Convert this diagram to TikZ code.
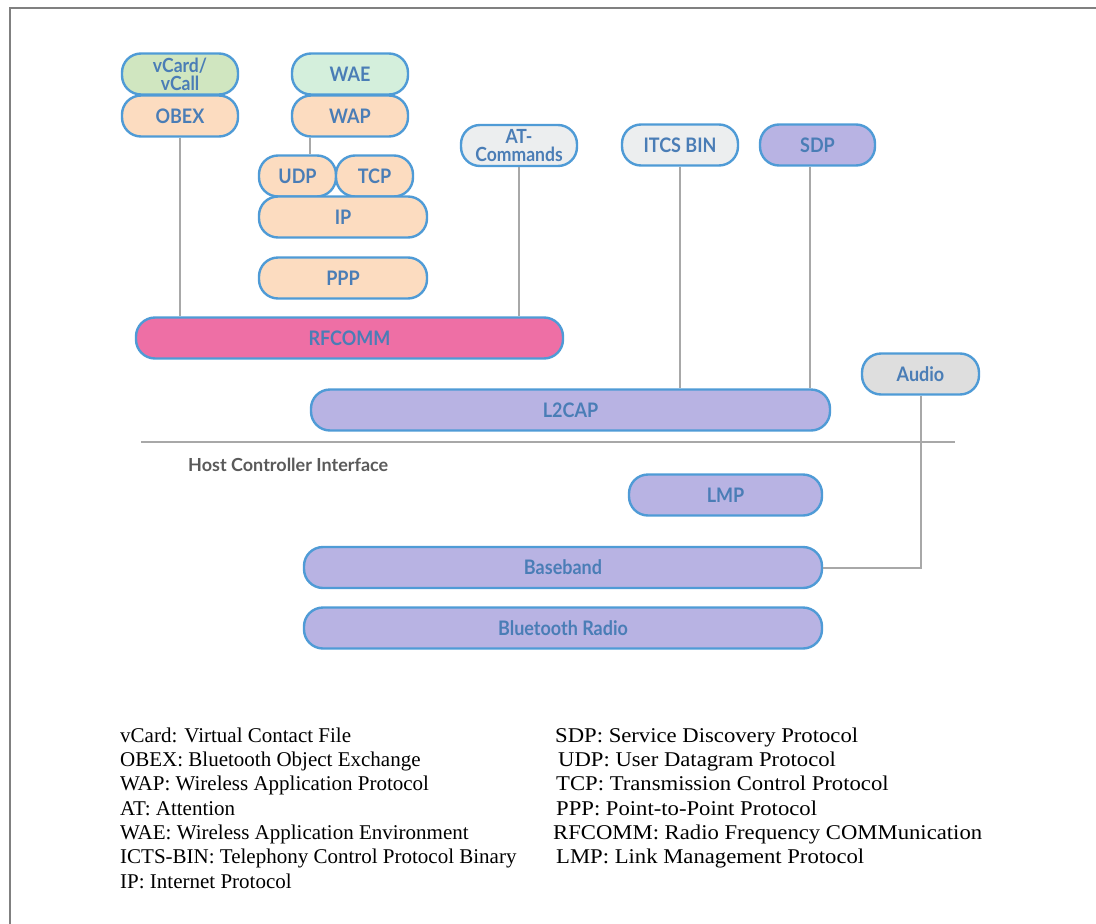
\documentclass[tikz,border=0pt]{standalone}
\usepackage{fontspec}
\setmainfont{Liberation Serif}
\newfontfamily\latofont[FakeStretch=0.9]{Lato}
\newfontfamily\hcifont{Lato}
\newfontfamily\widefont[FakeStretch=1.08]{Liberation Serif}
\usetikzlibrary{positioning}

\definecolor{layerborder}{HTML}{4F9BD6}
\definecolor{layertext}{HTML}{4A7DB6}
\definecolor{peach}{HTML}{FCDCC0}
\definecolor{greenA}{HTML}{D0E6C0}
\definecolor{greenB}{HTML}{D4EFDC}
\definecolor{paleGrey}{HTML}{ECEEEF}
\definecolor{audioGrey}{HTML}{DEDEDE}
\definecolor{lavender}{HTML}{B8B3E3}
\definecolor{rfpink}{HTML}{EE6FA5}
\definecolor{linkgrey}{HTML}{A8A8A8}
\definecolor{hcitext}{HTML}{5A5A5A}

\tikzset{
  layer/.style={draw=layerborder, line width=2.4pt, rounded corners=19pt, minimum height=41pt,
    inner sep=0pt, text=layertext, align=center, font=\latofont\bfseries\fontsize{20}{20}\selectfont},
  twoline/.style={font=\latofont\bfseries\fontsize{19.5}{18}\selectfont},
  link/.style={draw=linkgrey, line width=2pt},
  legend/.style={anchor=base west, inner sep=0pt, font=\fontsize{21}{24}\selectfont},
  legendR/.style={legend, font=\widefont\fontsize{21}{24}\selectfont}
}

\newcommand{\btlayer}[5] {\node at (#1) (#2) [layer, minimum width=#3pt, fill=#4] {#5};}
\newcommand{\btlink}[2] {\draw [link] (#1) -- (#2);}
\newcommand{\btlegend}[3] {\node at (#1) (#2) [legend] {#3};}
\newcommand{\btlegendR}[3] {\node at (#1) (#2) [legendR] {#3};}

\begin{document}
\begin{tikzpicture}[x=1pt, y=-1pt]
\useasboundingbox (0,0) rectangle (1096,924);
\draw [gray, line width=2pt] (1096,8) -- (10,8) -- (10,924);

% upper stack
\node at (180,74) (vcard) [layer, twoline, minimum width=116pt, fill=greenA] {vCard/\\vCall};
\btlayer {180,116} {obex} {116} {peach} {OBEX};
\btlayer {350,74} {wae} {116} {greenB} {WAE};
\btlayer {350,116} {wap} {116} {peach} {WAP};
\btlayer {297.5,176} {udp} {77} {peach} {UDP};
\btlayer {374.5,176} {tcp} {77} {peach} {TCP};
\btlayer {343,217} {ip} {168} {peach} {IP};
\btlayer {343,278} {ppp} {168} {peach} {PPP};
\node at (519,145.5) (atcmd) [layer, twoline, minimum width=116pt, fill=paleGrey] {AT-\\Commands};
\btlayer {680,145} {itcs} {116} {paleGrey} {ITCS BIN};
\btlayer {817.5,145} {sdp} {115} {lavender} {SDP};
\btlayer {349.5,338} {rfcomm} {427} {rfpink} {RFCOMM};
\btlayer {570.5,410} {l2cap} {519} {lavender} {L2CAP};
\btlayer {920.5,374} {audio} {117} {audioGrey} {Audio};

% host controller interface
\coordinate (hciL) at (141,442);
\coordinate (hciR) at (955,442);
\btlink{hciL}{hciR};
\node at (188,465) (hci) [anchor=west, inner sep=0pt, text=hcitext, font=\hcifont\bfseries\fontsize{18}{18}\selectfont] {Host Controller Interface};

% lower stack
\btlayer {725.5,495} {lmp} {193} {lavender} {LMP};
\btlayer {563,567.5} {baseband} {518} {lavender} {Baseband};
\btlayer {563,628} {radio} {518} {lavender} {Bluetooth Radio};

% links
\btlink{obex.south}{obex.south |- rfcomm.north};
\draw [link] ([xshift=-40pt]wap.south) -- ([xshift=-40pt]wap.south |- udp.north);
\btlink{atcmd.south}{atcmd.south |- rfcomm.north};
\btlink{itcs.south}{itcs.south |- l2cap.north};
\draw [link] ([xshift=-8pt]sdp.south) -- ([xshift=-8pt]sdp.south |- l2cap.north);
\draw [link] (audio.south) |- (baseband.east);

% legend
\btlegend {120,742} {lvcard} {vCard: Virtual Contact File};
\btlegend {120,766.3} {lobex} {OBEX: Bluetooth Object Exchange};
\btlegend {120,790.6} {lwap} {WAP: Wireless Application Protocol};
\btlegend {120,815} {lat} {AT: Attention};
\btlegend {120,839.3} {lwae} {WAE: Wireless Application Environment};
\btlegend {120,863.6} {litcs} {ICTS-BIN: Telephony Control Protocol Binary};
\btlegend {120,888} {lip} {IP: Internet Protocol};

\btlegendR {555,742} {lsdp} {SDP: Service Discovery Protocol};
\btlegendR {558,766.3} {ludp} {UDP: User Datagram Protocol};
\btlegendR {556,790.6} {ltcp} {TCP: Transmission Control Protocol};
\btlegendR {556,815} {lppp} {PPP: Point-to-Point Protocol};
\btlegendR {553,839.3} {lrfcomm} {RFCOMM: Radio Frequency COMMunication};
\btlegendR {556,863.6} {llmp} {LMP: Link Management Protocol};
\end{tikzpicture}
\end{document}
